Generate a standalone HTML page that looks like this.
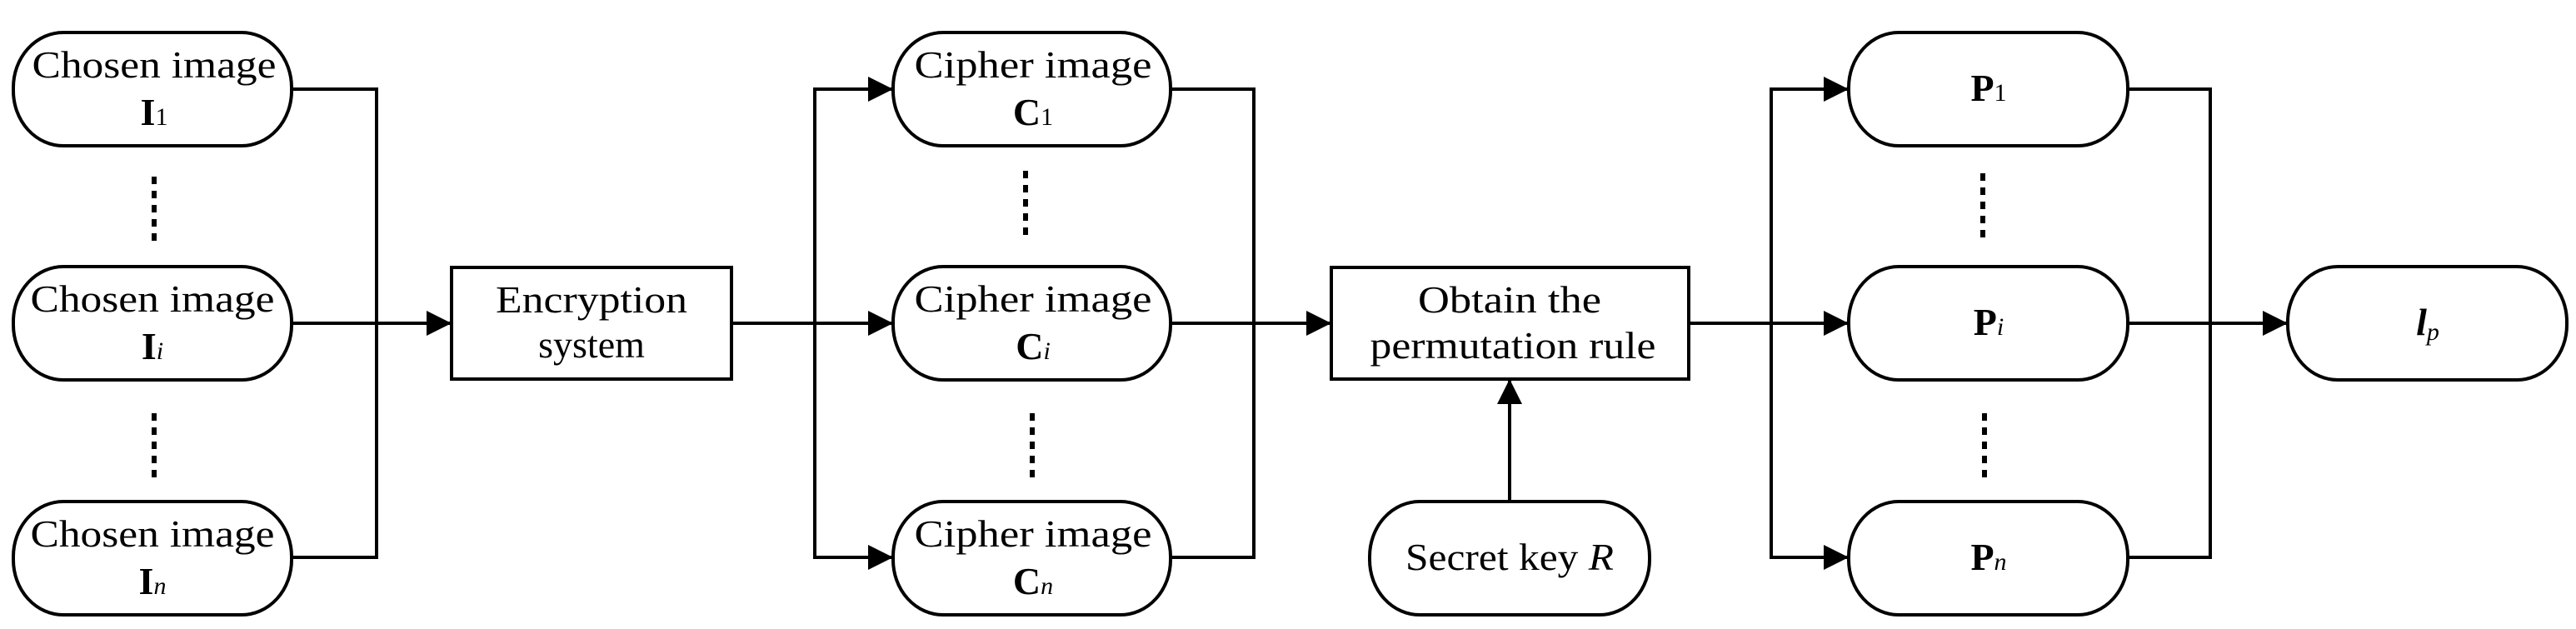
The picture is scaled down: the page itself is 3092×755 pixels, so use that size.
<!DOCTYPE html>
<html><head><meta charset="utf-8"><style>html,body{margin:0;padding:0;background:#fff}svg{display:block}</style></head>
<body>
<svg width="3092" height="755" viewBox="0 0 3092 755" xmlns="http://www.w3.org/2000/svg" font-family="'Liberation Serif', serif" font-size="46" text-anchor="middle">
<defs><marker id="a" markerWidth="30" markerHeight="30" refX="30" refY="15" orient="auto" markerUnits="userSpaceOnUse"><path d="M0,0 L30,15 L0,30 Z" fill="#000"/></marker></defs>
<g fill="none" stroke="#000" stroke-width="4">
<!-- left column boxes -->
<rect x="16" y="39" width="334" height="136" rx="60" ry="66" fill="#fff"/>
<rect x="16" y="320" width="334" height="136" rx="60" ry="66" fill="#fff"/>
<rect x="16" y="602" width="334" height="136" rx="60" ry="66" fill="#fff"/>
<rect x="542" y="321" width="336" height="134"/>
<rect x="1072" y="39" width="333" height="136" rx="60" ry="66"/>
<rect x="1072" y="320" width="333" height="136" rx="60" ry="66"/>
<rect x="1072" y="602" width="333" height="136" rx="60" ry="66"/>
<rect x="1598" y="321" width="429" height="134"/>
<rect x="1644" y="602" width="336" height="136" rx="60" ry="66"/>
<rect x="2219" y="39" width="335" height="136" rx="60" ry="66"/>
<rect x="2219" y="320" width="335" height="136" rx="60" ry="66"/>
<rect x="2219" y="602" width="335" height="136" rx="60" ry="66"/>
<rect x="2746" y="320" width="335" height="136" rx="60" ry="66"/>
<!-- connectors -->
<polyline points="350,107 452,107 452,669 350,669"/>
<line x1="350" y1="388" x2="542" y2="388" marker-end="url(#a)"/>
<line x1="878" y1="388" x2="1072" y2="388" marker-end="url(#a)"/>
<polyline points="1072,107 978,107 978,669 1072,669"/>
<line x1="978" y1="107" x2="1072" y2="107" marker-end="url(#a)"/>
<line x1="978" y1="669" x2="1072" y2="669" marker-end="url(#a)"/>
<polyline points="1405,107 1505,107 1505,669 1405,669"/>
<line x1="1405" y1="388" x2="1598" y2="388" marker-end="url(#a)"/>
<line x1="1812" y1="602" x2="1812" y2="455" marker-end="url(#a)"/>
<line x1="2027" y1="388" x2="2219" y2="388" marker-end="url(#a)"/>
<polyline points="2219,107 2126,107 2126,669 2219,669"/>
<line x1="2126" y1="107" x2="2219" y2="107" marker-end="url(#a)"/>
<line x1="2126" y1="669" x2="2219" y2="669" marker-end="url(#a)"/>
<polyline points="2554,107 2653,107 2653,669 2554,669"/>
<line x1="2554" y1="388" x2="2746" y2="388" marker-end="url(#a)"/>
<!-- dots -->
<g stroke-width="6" stroke-dasharray="9 8">
<line x1="185" y1="212" x2="185" y2="296"/><line x1="185" y1="496" x2="185" y2="580"/>
<line x1="1231" y1="205" x2="1231" y2="288"/><line x1="1239" y1="496" x2="1239" y2="580"/>
<line x1="2380" y1="208" x2="2380" y2="290"/><line x1="2382" y1="496" x2="2382" y2="580"/>
</g>
</g>
<g fill="#000">
<text x="185" y="93" textLength="293" lengthAdjust="spacingAndGlyphs">Chosen image</text>
<text x="185" y="150"><tspan font-weight="bold">I</tspan><tspan font-size="30">1</tspan></text>
<text x="183" y="374" textLength="293" lengthAdjust="spacingAndGlyphs">Chosen image</text>
<text x="183" y="431"><tspan font-weight="bold">I</tspan><tspan font-size="30" font-style="italic">i</tspan></text>
<text x="183" y="656" textLength="293" lengthAdjust="spacingAndGlyphs">Chosen image</text>
<text x="183" y="713"><tspan font-weight="bold">I</tspan><tspan font-size="30" font-style="italic">n</tspan></text>
<text x="710" y="375" textLength="230" lengthAdjust="spacingAndGlyphs">Encryption</text>
<text x="710" y="429">system</text>
<text x="1240" y="93" textLength="285" lengthAdjust="spacingAndGlyphs">Cipher image</text>
<text x="1240" y="150"><tspan font-weight="bold">C</tspan><tspan font-size="30">1</tspan></text>
<text x="1240" y="374" textLength="285" lengthAdjust="spacingAndGlyphs">Cipher image</text>
<text x="1240" y="431"><tspan font-weight="bold">C</tspan><tspan font-size="30" font-style="italic">i</tspan></text>
<text x="1240" y="656" textLength="285" lengthAdjust="spacingAndGlyphs">Cipher image</text>
<text x="1240" y="713"><tspan font-weight="bold">C</tspan><tspan font-size="30" font-style="italic">n</tspan></text>
<text x="1812" y="375" textLength="220" lengthAdjust="spacingAndGlyphs">Obtain the</text>
<text x="1816" y="430" textLength="343" lengthAdjust="spacingAndGlyphs">permutation rule</text>
<text x="1812" y="684" textLength="250" lengthAdjust="spacingAndGlyphs">Secret key <tspan font-style="italic">R</tspan></text>
<text x="2387" y="121"><tspan font-weight="bold">P</tspan><tspan font-size="30">1</tspan></text>
<text x="2387" y="402"><tspan font-weight="bold">P</tspan><tspan font-size="30" font-style="italic">i</tspan></text>
<text x="2387" y="684"><tspan font-weight="bold">P</tspan><tspan font-size="30" font-style="italic">n</tspan></text>
<text x="2914" y="402"><tspan font-weight="bold" font-style="italic">l</tspan><tspan font-size="30" font-style="italic" dy="6">p</tspan></text>
</g>
</svg>
</body></html>
